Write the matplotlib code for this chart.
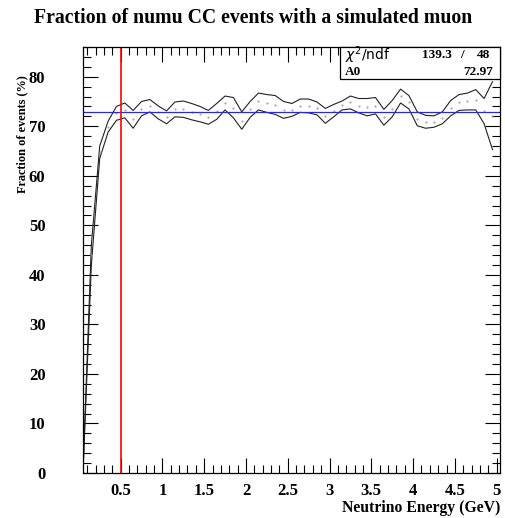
import matplotlib
matplotlib.use("Agg")
import matplotlib.pyplot as plt
from matplotlib.ticker import MultipleLocator
from matplotlib.patches import Rectangle

# bin centres (GeV) and the upper / lower edges of the error band (%)
energy = [0.05, 0.15, 0.25, 0.35, 0.45, 0.55, 0.65, 0.75, 0.85, 0.95,
          1.05, 1.15, 1.25, 1.35, 1.45, 1.55, 1.65, 1.75, 1.85, 1.95,
          2.05, 2.15, 2.25, 2.35, 2.45, 2.55, 2.65, 2.75, 2.85, 2.95,
          3.05, 3.15, 3.25, 3.35, 3.45, 3.55, 3.65, 3.75, 3.85, 3.95,
          4.05, 4.15, 4.25, 4.35, 4.45, 4.55, 4.65, 4.75, 4.85, 4.95]
upper = [0.5, 46.0, 66.0, 71.0, 74.0, 74.7, 73.2, 75.0, 75.4, 74.1,
         73.1, 74.9, 75.1, 74.6, 74.0, 73.2, 74.6, 76.1, 75.8, 72.9,
         75.0, 76.7, 76.4, 76.2, 75.0, 74.6, 75.5, 75.5, 74.9, 73.6,
         74.4, 75.1, 76.1, 75.6, 75.6, 75.8, 73.4, 75.2, 77.5, 76.2,
         72.9, 72.2, 72.1, 72.9, 75.2, 76.4, 76.7, 77.4, 75.6, 79.0]
lower = [0.0, 42.0, 63.5, 68.8, 71.2, 71.7, 69.6, 72.1, 72.9, 71.5,
         70.5, 71.9, 71.8, 71.3, 70.9, 70.4, 71.4, 73.3, 71.7, 69.4,
         71.8, 73.3, 72.8, 72.4, 71.6, 72.0, 72.8, 72.7, 72.3, 70.6,
         71.9, 73.3, 73.5, 72.7, 72.1, 72.5, 70.2, 71.9, 74.7, 73.5,
         70.1, 69.6, 69.8, 70.5, 72.1, 73.2, 73.3, 73.3, 70.5, 65.3]

fit_value = 72.97
chi2 = 139.3
ndf = 48
cut_energy = 0.5

serif = "Liberation Serif"

fig = plt.figure(figsize=(5.06, 5.18), dpi=100)
ax = fig.add_axes([83 / 506, 1 - 473 / 518, 417 / 506, 426 / 518])

central = [(u + l) / 2 for u, l in zip(upper, lower)]
ax.plot(energy, upper, color="#222222", lw=0.8)
ax.plot(energy, lower, color="#222222", lw=0.8)
ax.plot(energy, central, ls="none", marker=".", ms=1.0, color="#999999")

ax.axhline(fit_value, color="#2a2ad8", lw=0.9)
ax.axvline(cut_energy, color="red", lw=1.2)

ax.set_xlim(0.05, 5.04)
ax.set_ylim(0, 86)

ax.xaxis.set_major_locator(MultipleLocator(0.5))
ax.xaxis.set_minor_locator(MultipleLocator(0.1))
ax.yaxis.set_major_locator(MultipleLocator(10))
ax.yaxis.set_minor_locator(MultipleLocator(2))
ax.tick_params(which="both", direction="in", top=True, right=True, width=0.8)
ax.tick_params(which="major", length=11)
ax.tick_params(which="minor", length=6)
ax.tick_params(axis="x", which="major", pad=7)
ax.tick_params(axis="y", which="major", pad=27)

ax.set_xticks([0.5, 1, 1.5, 2, 2.5, 3, 3.5, 4, 4.5, 5])
ax.set_xticklabels(["0.5", "1", "1.5", "2", "2.5", "3", "3.5", "4", "4.5", "5"])
for lab in ax.get_xticklabels() + ax.get_yticklabels():
    lab.set_fontfamily(serif)
    lab.set_fontweight("bold")
    lab.set_fontsize(12)

for sp in ax.spines.values():
    sp.set_linewidth(0.9)

fig.text(0.5, 1 - 18 / 518, "Fraction of numu CC events with a simulated muon",
         ha="center", va="center", fontfamily=serif, fontweight="bold", fontsize=14.2)
fig.text(500 / 506, 1 - 508 / 518, "Neutrino Energy (GeV)", ha="right", va="center",
         fontfamily=serif, fontweight="bold", fontsize=11.3)
fig.text(22 / 506, 1 - 75 / 518, "Fraction of events (%)", ha="center", va="top",
         rotation=90, fontfamily=serif, fontweight="bold", fontsize=8.8)

# stats box
box = Rectangle((340 / 506, 1 - 79 / 518), 160 / 506, 32 / 518, transform=fig.transFigure,
                facecolor="white", edgecolor="black", lw=0.9, zorder=5)
fig.patches.append(box)
fig.text(345 / 506, 1 - 55 / 518, r"$\chi^2$/ndf", ha="left", va="center", fontsize=10, zorder=6)
fig.text(452 / 506, 1 - 55 / 518, f"{chi2:.1f}", ha="right", va="center",
         fontfamily=serif, fontweight="bold", fontsize=9.5, zorder=6)
fig.text(462 / 506, 1 - 55 / 518, "/", ha="center", va="center",
         fontfamily=serif, fontweight="bold", fontsize=9.5, zorder=6)
fig.text(490 / 506, 1 - 55 / 518, f"{ndf}", ha="right", va="center",
         fontfamily=serif, fontweight="bold", fontsize=9.5, zorder=6)
fig.text(345 / 506, 1 - 72 / 518, "A0", ha="left", va="center",
         fontfamily=serif, fontweight="bold", fontsize=9.5, zorder=6)
fig.text(493 / 506, 1 - 72 / 518, f"{fit_value:.2f}", ha="right", va="center",
         fontfamily=serif, fontweight="bold", fontsize=9.5, zorder=6)

fig.savefig("out.png", dpi=100)
